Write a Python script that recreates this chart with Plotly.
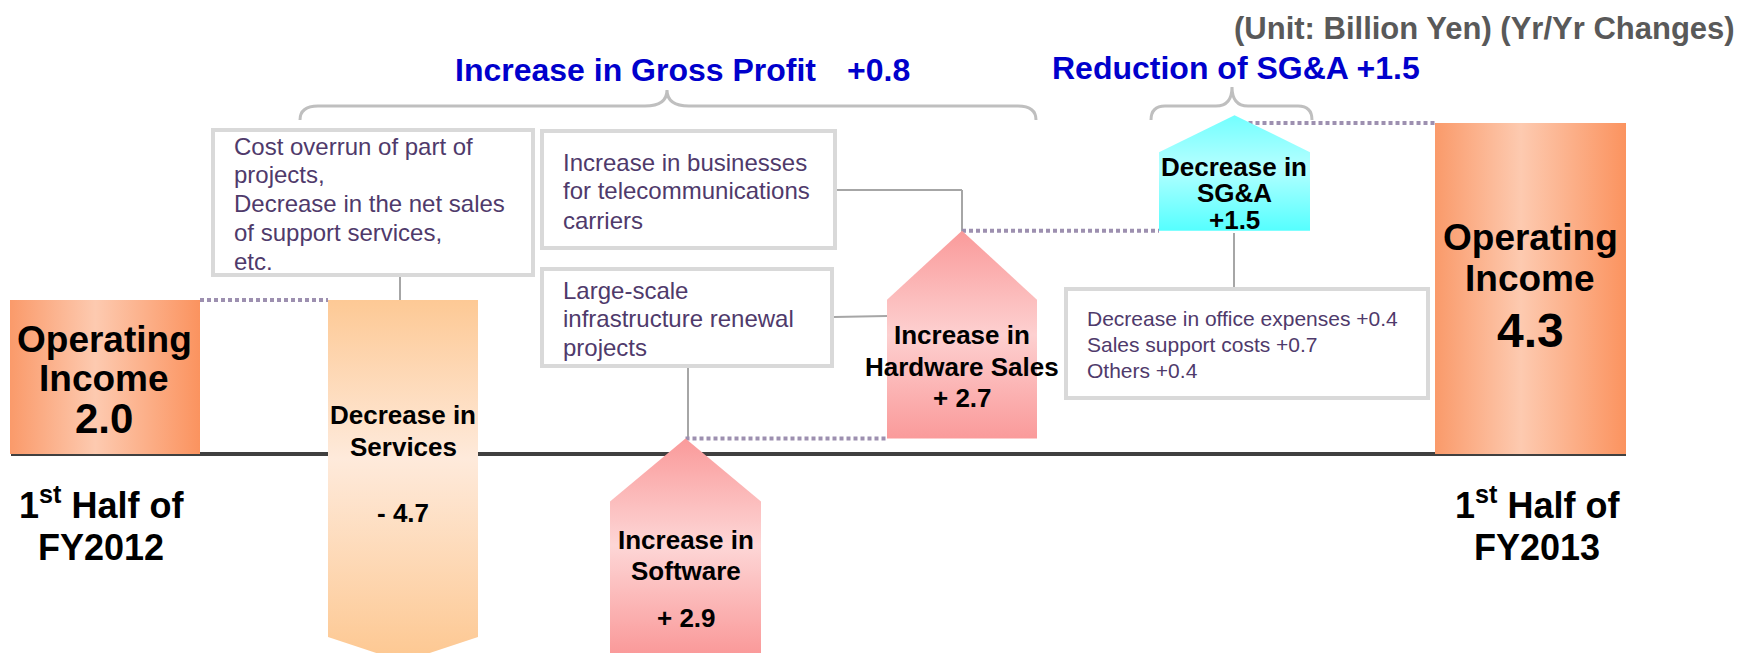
import plotly.graph_objects as go

# ---- data (billion yen, yr/yr changes) ----
start_value = 2.0
end_value = 4.3
change_names = ["Services", "Software", "Hardware Sales", "SG&A"]
change_values = [-4.7, 2.9, 2.7, 1.5]
gross_profit_change = 0.8
sga_change = 1.5
sga_items = ["Decrease in office expenses", "Sales support costs", "Others"]
sga_item_values = [0.4, 0.7, 0.4]
period_labels = ["FY2012", "FY2013"]

# ---- canvas / layout constants ----
# the page body has an 8px margin, so the figure is drawn 8px smaller and
# everything below is given in window pixels
SCREEN_W, SCREEN_H = 1742, 653
OFF = 8
W, H = SCREEN_W - OFF, SCREEN_H - OFF
BASE_PX = 454          # window row of the zero line
PX_PER_UNIT = 77.0
FONT = "Liberation Sans, Arial, sans-serif"
BOX_TXT = "#4f3a6b"
BLUE = "#0000cc"

bar_x = [(10, 200), (1435, 1626)]
arrow_x = [(328, 478), (610, 761), (887, 1037), (1159, 1310)]
arrow_head_px = [25, 63, 69, 37]
arrow_scales = [
    [[0, "#fdc994"], [0.55, "#feeadb"], [1, "#fdc995"]],
    [[0, "#fa9a9a"], [0.5, "#fdd6d6"], [1, "#fa9a9a"]],
    [[0, "#fa9a9a"], [0.5, "#fdd0d0"], [1, "#fa9a9a"]],
    [[0, "#55ffff"], [0.55, "#b4ffff"], [1, "#72ffff"]],
]
bar_scale = [[0, "#fa9a6a"], [0.45, "#fdcab0"], [1, "#fb935f"]]

y_lo = -(SCREEN_H - BASE_PX) / PX_PER_UNIT
y_hi = (BASE_PX - OFF) / PX_PER_UNIT


def py(p):
    return 1 - (p - OFF) / H


levels = [start_value]
for c in change_values:
    levels.append(round(levels[-1] + c, 2))

fig = go.Figure()

# bars for the two periods
for (x0, x1), v in zip(bar_x, [start_value, end_value]):
    fig.add_trace(go.Scatter(
        x=[x0, x0, x1, x1, x0], y=[0, v, v, 0, 0], mode="lines", fill="toself",
        line=dict(width=0), fillgradient=dict(type="horizontal", colorscale=bar_scale),
        hoverinfo="skip", showlegend=False))

# arrows for the changes
for i, c in enumerate(change_values):
    x0, x1 = arrow_x[i]
    xm = (x0 + x1) / 2
    y_from, y_to = levels[i], levels[i + 1]
    head = arrow_head_px[i] / PX_PER_UNIT
    shoulder = y_to - head if c > 0 else y_to + head
    lo = max(min(y_from, y_to), y_lo)
    hi = min(max(y_from, y_to), y_hi)
    fig.add_trace(go.Scatter(
        x=[x0, x0, xm, x1, x1, x0], y=[y_from, shoulder, y_to, shoulder, y_from, y_from],
        mode="lines", fill="toself", line=dict(width=0),
        fillgradient=dict(type="vertical", colorscale=arrow_scales[i], start=lo, stop=hi),
        hoverinfo="skip", showlegend=False))

# zero line
fig.add_shape(type="line", xref="x", yref="y", x0=11, x1=bar_x[1][1], y0=0, y1=0,
              line=dict(color="#404040", width=4), layer="below")

# dotted level connectors
dot = dict(color="#9d90b0", width=4, dash="4px,3px")
conns = [
    (bar_x[0][1], arrow_x[0][0], levels[0]),
    (sum(arrow_x[1]) / 2, arrow_x[2][0], levels[2]),
    (sum(arrow_x[2]) / 2, arrow_x[3][0], levels[3]),
    (sum(arrow_x[3]) / 2, bar_x[1][0], end_value),
]
for xa, xb, lv in conns:
    fig.add_shape(type="line", xref="x", yref="y", x0=xa, x1=xb, y0=lv, y1=lv,
                  line=dot, layer="below")

# callout connectors (window pixels)
gray = dict(color="#a6a6a6", width=2)
for pts in [
    [(400, 277), (400, 302)],
    [(837, 190), (962, 190), (962, 233)],
    [(834, 317), (887, 316)],
    [(688, 368), (688, 438)],
    [(1234, 233), (1234, 287)],
]:
    for (xa, ya), (xb, yb) in zip(pts[:-1], pts[1:]):
        fig.add_shape(type="line", xref="x", yref="paper", x0=xa, x1=xb,
                      y0=py(ya), y1=py(yb), line=gray, layer="below")

# text boxes
boxes = [
    (211, 128, 535, 277), (540, 129, 837, 250),
    (540, 267, 834, 368), (1064, 287, 1430, 400),
]
for x0, t, x1, b in boxes:
    fig.add_shape(type="rect", xref="x", yref="paper", x0=x0 + 2, x1=x1 - 2,
                  y0=py(b - 2), y1=py(t + 2), fillcolor="white",
                  line=dict(color="#d9d9d9", width=4))


# braces
def brace(x0, x1, xm, top, end, peak, r, r2):
    return (f"M {x0},{py(end)} Q {x0},{py(top)} {x0 + r},{py(top)} "
            f"L {xm - r2},{py(top)} Q {xm},{py(top)} {xm},{py(peak)} "
            f"Q {xm},{py(top)} {xm + r2},{py(top)} L {x1 - r},{py(top)} "
            f"Q {x1},{py(top)} {x1},{py(end)}")


for args in [(300, 1036, 667, 106, 120, 90, 18, 22), (1151, 1312, 1232, 106, 120, 87, 14, 16)]:
    fig.add_shape(type="path", xref="x", yref="paper", path=brace(*args),
                  line=dict(color="#bfbfbf", width=3))


def text(x, y_px, s, size, color="black", bold=True, anchor="center"):
    fig.add_annotation(x=x, y=py(y_px), xref="x", yref="paper",
                       text=f"<b>{s}</b>" if bold else s, showarrow=False,
                       font=dict(family=FONT, size=size, color=color),
                       xanchor=anchor, yanchor="middle")


def lines(x, ys, ls, size, color="black", bold=True, anchor="center"):
    for y, s in zip(ys, ls):
        text(x, y, s, size, color, bold, anchor)


# box texts
lines(232, [146, 175, 203, 232, 261],
      ["Cost overrun of part of", "projects,", "Decrease in the net sales",
       "of support services,", "etc."], 24, BOX_TXT, False, "left")
lines(561, [162, 191, 220],
      ["Increase in businesses", "for telecommunications", "carriers"], 24, BOX_TXT, False, "left")
lines(561, [290, 318, 347],
      ["Large-scale", "infrastructure renewal", "projects"], 24, BOX_TXT, False, "left")
lines(1085, [318, 344, 370],
      [f"{n} +{v}" for n, v in zip(sga_items, sga_item_values)], 21, BOX_TXT, False, "left")


def fmt(v, space=True):
    sign = "+" if v > 0 else "-"
    return f"{sign}{' ' if space else ''}{abs(v)}"


# arrow labels
lines(403, [415, 447, 513], ["Decrease in", change_names[0], fmt(change_values[0])], 26)
lines(686, [540, 571, 618], ["Increase in", change_names[1], fmt(change_values[1])], 26)
lines(962, [335, 367, 398], ["Increase in", change_names[2], fmt(change_values[2])], 26)
lines(1234, [167, 193, 220], ["Decrease in", change_names[3], fmt(change_values[3], False)], 26)

# bar labels
lines(104, [339, 378], ["Operating", "Income"], 37)
text(104, 418, f"{start_value}", 42)
lines(1530, [237, 278], ["Operating", "Income"], 37)
text(1530, 330, f"{end_value}", 48)

# period labels
for xc, lab in zip([101, 1537], period_labels):
    text(xc, 503, "1<sup>st</sup> Half of", 36)
    text(xc, 547, lab, 36)

# headers
text(453, 70, "Increase in Gross Profit", 32, BLUE, anchor="left")
text(845, 70, f"+{gross_profit_change}", 32, BLUE, anchor="left")
text(1050, 68, f"Reduction of SG&A +{sga_change}", 32, BLUE, anchor="left")
text(1737, 28, "(Unit: Billion Yen) (Yr/Yr Changes)", 31, "#595959", anchor="right")

fig.update_layout(
    width=W, height=H, margin=dict(l=0, r=0, t=0, b=0),
    paper_bgcolor="white", plot_bgcolor="white", showlegend=False,
    xaxis=dict(range=[OFF, SCREEN_W], visible=False, fixedrange=True),
    yaxis=dict(range=[y_lo, y_hi], visible=False, fixedrange=True),
)

fig.write_html("out.html")
